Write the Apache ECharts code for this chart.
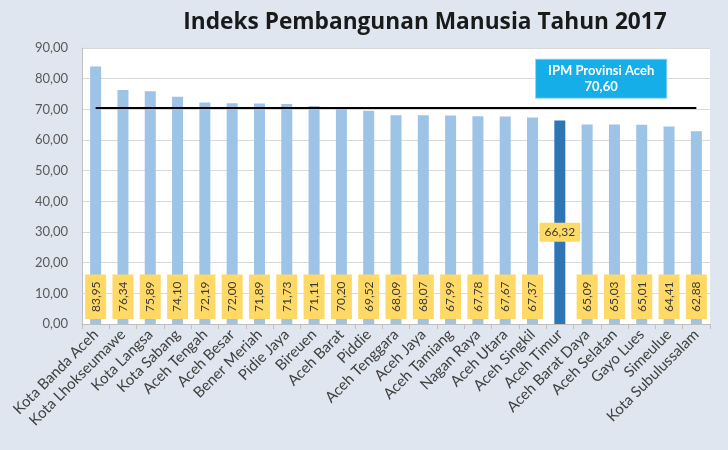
<!DOCTYPE html>
<html>
<head>
<meta charset="utf-8">
<script src="https://cdn.jsdelivr.net/npm/echarts@6/dist/echarts.min.js"></script>
<style>
  html, body { margin: 0; padding: 0; background: #dfe6ef; }
  #chart { width: 728px; height: 450px; }
</style>
</head>
<body>
<div id="chart"></div>
<script>
// data
var kabupaten = ['Kota Banda Aceh', 'Kota Lhokseumawe', 'Kota Langsa', 'Kota Sabang', 'Aceh Tengah',
  'Aceh Besar', 'Bener Meriah', 'Pidie Jaya', 'Bireuen', 'Aceh Barat', 'Piddie', 'Aceh Tenggara',
  'Aceh Jaya', 'Aceh Tamiang', 'Nagan Raya', 'Aceh Utara', 'Aceh Singkil', 'Aceh Timur',
  'Aceh Barat Daya', 'Aceh Selatan', 'Gayo Lues', 'Simeulue', 'Kota Subulussalam'];
var ipm = [83.95, 76.34, 75.89, 74.10, 72.19, 72.00, 71.89, 71.73, 71.11, 70.20, 69.52, 68.09,
  68.07, 67.99, 67.78, 67.67, 67.37, 66.32, 65.09, 65.03, 65.01, 64.41, 62.88];
var ipmProvinsi = 70.60;
var sorot = 'Aceh Timur'; // bar yang ditandai

function koma(v) {
  return Number(v).toFixed(2).replace('.', ',');
}

var chart = echarts.init(document.getElementById('chart'));

var barData = ipm.map(function (v, i) {
  if (kabupaten[i] === sorot) {
    return {
      value: v,
      itemStyle: { color: '#2e75b6' },
      label: { position: 'inside', rotate: 0, align: 'center', offset: [0, 10], padding: [4, 5, 3, 5] }
    };
  }
  return v;
});

var option = {
  backgroundColor: '#dfe6ef',
  textStyle: { fontFamily: 'Lato' },
  title: {
    text: 'Indeks Pembangunan Manusia Tahun 2017',
    left: 420,
    textAlign: 'center',
    top: 6,
    textStyle: { fontSize: 22.7, fontWeight: 'bold', color: '#1a1a1a', fontFamily: 'Open Sans' }
  },
  grid: {
    left: 82, right: 18, top: 48, bottom: 126,
    show: true, backgroundColor: '#ffffff', borderWidth: 0
  },
  xAxis: {
    type: 'category',
    data: kabupaten,
    axisTick: { show: true, lineStyle: { color: '#bfbfbf' } },
    axisLine: { lineStyle: { color: '#bfbfbf' } },
    axisLabel: {
      interval: 0, rotate: 45, fontSize: 15, color: '#404040', margin: 8
    }
  },
  yAxis: {
    type: 'value',
    min: 0, max: 90, interval: 10,
    axisLine: { show: true, lineStyle: { color: '#bfbfbf' } },
    splitLine: { lineStyle: { color: '#d9d9d9' } },
    axisLabel: {
      fontSize: 13, color: '#595959', margin: 14,
      formatter: function (v) { return koma(v); }
    }
  },
  series: [{
    type: 'bar',
    data: barData,
    barWidth: 11,
    itemStyle: { color: '#9dc3e6' },
    label: {
      show: true,
      position: 'insideBottom',
      rotate: 90,
      align: 'left',
      verticalAlign: 'middle',
      distance: 5,
      fontSize: 12,
      color: '#3a3a3a',
      backgroundColor: '#ffd966',
      padding: [5, 7, 4, 7],
      formatter: function (p) { return koma(p.value); }
    },
    markLine: {
      silent: true,
      symbol: 'none',
      lineStyle: { color: '#000000', width: 2, type: 'solid' },
      label: { show: false },
      data: [[
        { coord: [0, ipmProvinsi] },
        { coord: [kabupaten.length - 1, ipmProvinsi] }
      ]]
    },
    markPoint: {
      silent: true,
      symbolSize: 0,
      data: [{
        coord: [18, 80],
        label: {
          show: true,
          offset: [14, 0],
          formatter: 'IPM Provinsi Aceh\n' + koma(ipmProvinsi),
          color: '#ffffff',
          fontWeight: 'bold',
          fontSize: 13,
          lineHeight: 16,
          align: 'center',
          backgroundColor: '#15aee9',
          padding: [3, 12, 3, 12],
          borderColor: '#8fd3f0',
          borderWidth: 1
        }
      }]
    }
  }]
};

chart.setOption(option);
</script>
</body>
</html>
